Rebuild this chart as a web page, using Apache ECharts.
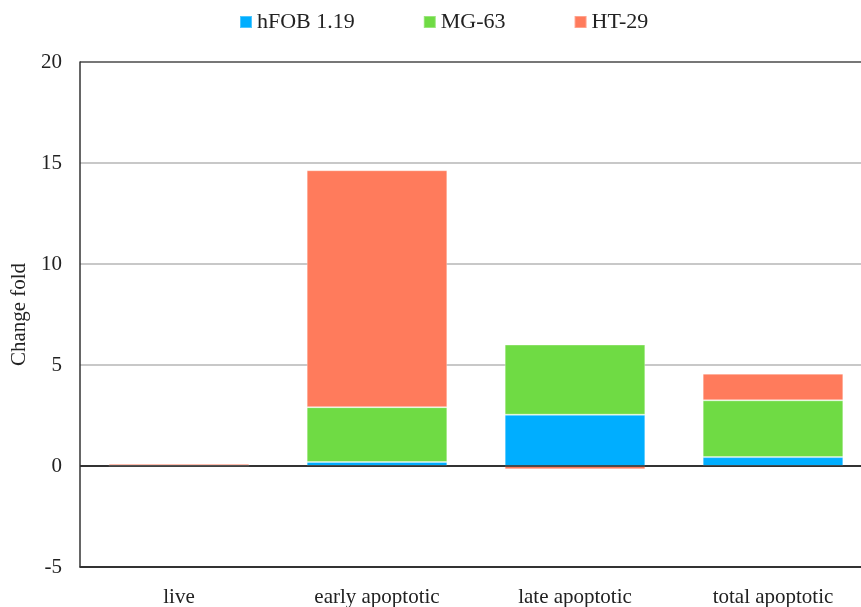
<!DOCTYPE html>
<html><head><meta charset="utf-8">
<script src="https://cdn.jsdelivr.net/npm/echarts@6/dist/echarts.min.js"></script>
<style>html,body{margin:0;padding:0;background:#fff}#c{width:861px;height:607px}</style>
</head><body><div id="c"></div>
<script>
const categories = ['live', 'early apoptotic', 'late apoptotic', 'total apoptotic'];
const seriesNames = ['hFOB 1.19', 'MG-63', 'HT-29'];
const hFOB = [0.01, 0.20, 2.54, 0.44];
const MG63 = [0.01, 2.71, 3.47, 2.81];
const HT29 = [0.09, 11.73, -0.16, 1.32];
const colors = ['#00AEFF', '#6FDB44', '#FF7B5C'];
const font = '"Liberation Serif", "Times New Roman", serif';

const chart = echarts.init(document.getElementById('c'));
const data = [hFOB, MG63, HT29];
chart.setOption({
  animation: false,
  color: colors,
  legend: {
    top: 6, left: 234,
    itemWidth: 12, itemHeight: 12, itemGap: 68,
    icon: 'rect',
    textStyle: { fontFamily: font, fontSize: 22, color: '#222' },
    data: seriesNames
  },
  grid: { left: 80, top: 62, width: 792, height: 505, containLabel: false, outerBoundsMode: 'none' },
  xAxis: {
    type: 'category', data: categories,
    axisLine: { onZero: false, lineStyle: { color: '#333', width: 1.5 } },
    axisTick: { show: false },
    axisLabel: { fontFamily: font, fontSize: 21, color: '#222', margin: 20 }
  },
  yAxis: {
    type: 'value', min: -5, max: 20, interval: 5,
    name: 'Change fold', nameLocation: 'middle', nameGap: 49,
    nameTextStyle: { fontFamily: font, fontSize: 21, color: '#222' },
    axisLine: { show: true, lineStyle: { color: '#333', width: 1.5 } },
    axisTick: { show: false },
    axisLabel: { fontFamily: font, fontSize: 21, color: '#222', margin: 18 },
    splitLine: { show: true, lineStyle: { color: ['#333', '#333', '#c8c8c8', '#c8c8c8', '#c8c8c8', '#777'], width: 2 } }
  },
  series: seriesNames.map((n, i) => ({
    name: n, type: 'bar', stack: 'all', barWidth: '71%',
    data: data[i],
    itemStyle: { color: colors[i], borderColor: 'rgba(255,255,255,0.3)', borderWidth: 1 },
    markLine: i === 0 ? {
      silent: true, symbol: 'none', label: { show: false },
      lineStyle: { color: '#333', width: 1.5, type: 'solid' },
      data: [{ yAxis: 0 }]
    } : undefined,
    z: 2
  }))
});
</script></body></html>
